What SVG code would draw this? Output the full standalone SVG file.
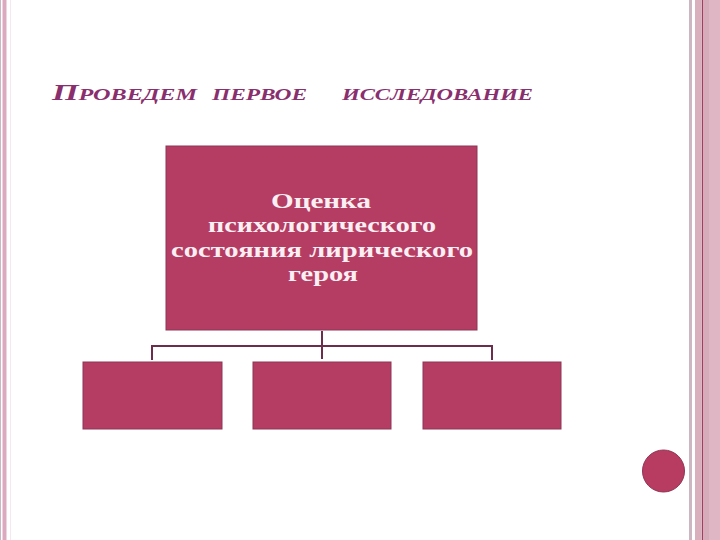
<svg xmlns="http://www.w3.org/2000/svg" width="720" height="540" viewBox="0 0 720 540">
<style>
.title{font-family:"Liberation Serif","Times New Roman",serif;font-style:italic;font-weight:bold;fill:#8a2f6e}
.box{fill:#b53d63;stroke:#8c3656;stroke-width:1}
.lbl{font-family:"Liberation Serif","Times New Roman",serif;font-weight:bold;font-size:22px;fill:#fbeff3;text-anchor:middle}
.conn{stroke:#6b2d4c;stroke-width:2;fill:none}
</style>
<rect x="0" y="0" width="720" height="540" fill="#ffffff"/>
<g id="border-left">
<rect x="0" y="0" width="1" height="540" fill="#c9b8c2"/>
<rect x="2.5" y="0" width="4" height="540" fill="#dba9be"/>
<rect x="10" y="0" width="1" height="540" fill="#f7e6ee"/>
</g>
<g id="border-right">
<rect x="689" y="0" width="3" height="540" fill="#ccb6c2"/>
<rect x="695" y="0" width="25" height="540" fill="#dfb6c4"/>
<rect x="695" y="0" width="6" height="540" fill="#d9afbe"/>
<rect x="702" y="0" width="1" height="540" fill="#a0405f"/>
<rect x="703" y="0" width="6" height="540" fill="#d6acbb"/>
</g>
<g id="title">
<text class="title" x="52" y="100" textLength="145" lengthAdjust="spacingAndGlyphs"><tspan font-size="24">П</tspan><tspan font-size="17">РОВЕДЕМ</tspan></text>
<text class="title" x="212" y="100" font-size="17" textLength="95" lengthAdjust="spacingAndGlyphs">ПЕРВОЕ</text>
<text class="title" x="342" y="100" font-size="17" textLength="191" lengthAdjust="spacingAndGlyphs">ИССЛЕДОВАНИЕ</text>
</g>
<g id="connectors">
<line class="conn" x1="322" y1="331" x2="322" y2="359"/>
<polyline class="conn" points="152,360 152,346 492,346 492,360"/>
</g>
<g id="node-main">
<rect class="box" x="166" y="146" width="311" height="184"/>
<text class="lbl" x="321" y="208" textLength="100" lengthAdjust="spacingAndGlyphs">Оценка</text>
<text class="lbl" x="322" y="232" textLength="228" lengthAdjust="spacingAndGlyphs">психологического</text>
<text class="lbl" x="322" y="257" textLength="302" lengthAdjust="spacingAndGlyphs">состояния лирического</text>
<text class="lbl" x="323" y="281" textLength="70" lengthAdjust="spacingAndGlyphs">героя</text>
</g>
<g id="node-1"><rect class="box" x="83" y="362" width="139" height="67"/></g>
<g id="node-2"><rect class="box" x="253" y="362" width="138" height="67"/></g>
<g id="node-3"><rect class="box" x="423" y="362" width="138" height="67"/></g>
<g id="circle"><circle cx="663.5" cy="471" r="21" fill="#b83b62" stroke="#8e3555" stroke-width="1"/></g>
</svg>
